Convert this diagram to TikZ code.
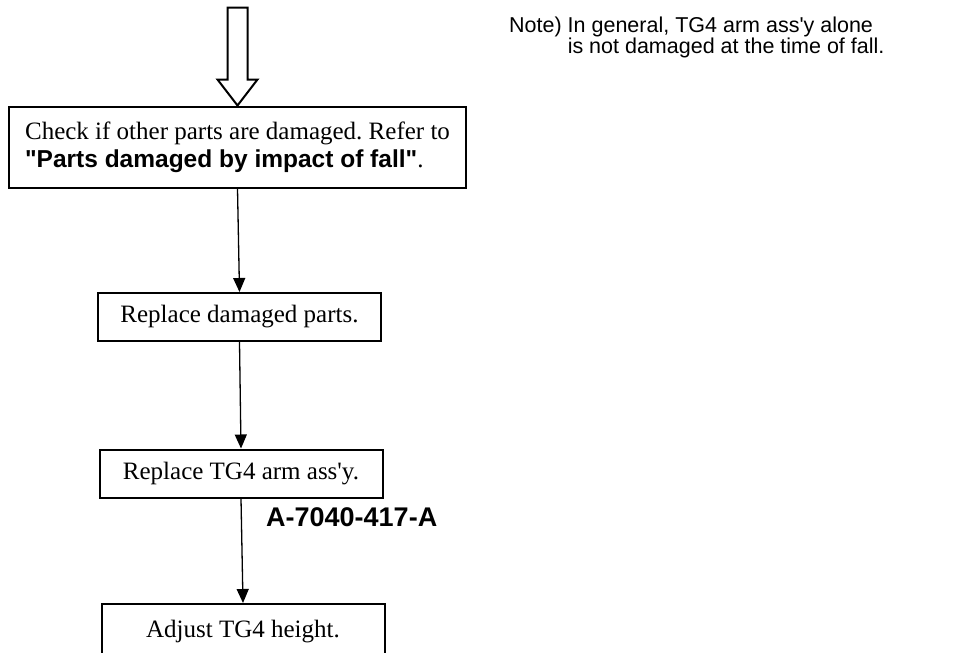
\documentclass[tikz,border=0pt]{standalone}
\usepackage{fontspec}
\setmainfont[Ligatures=TeXOff]{Liberation Serif}
\newfontfamily\helv[Ligatures=TeXOff]{Liberation Sans}
\usetikzlibrary{arrows.meta}
\frenchspacing

\begin{document}
\begin{tikzpicture}[
  x=1pt, y=-1pt, line join=miter,
  stepbox/.style={draw, line width=2pt, inner sep=0pt, align=center,
                  minimum width=283pt, minimum height=48pt,
                  font=\fontsize{25}{28}\selectfont},
  flow/.style   ={-{Triangle[length=14pt,width=12pt]}, line width=1.3pt},
  hollow/.style ={draw, line width=2pt, fill=white},
]

\useasboundingbox (0,0) rectangle (954,653);
\clip (0,0) rectangle (954,653);

% ----- the steps ---------------------------------------------------------
\node[stepbox, minimum width=457pt, minimum height=81pt, align=left]
      (check) at (237.5,147)
      {Check if other parts are damaged. Refer to\\
       {\helv\bfseries\fontsize{24.5}{28}\selectfont "Parts damaged by impact of fall"}.};
\node[stepbox] (parts)  at (239.5,317)   {Replace damaged parts.};
\node[stepbox] (arm)    at (241,473.5)   {Replace TG4 arm ass'y.};
\node[stepbox, minimum height=56pt] (height) at (243,632) {Adjust TG4 height.};

% ----- incoming hollow arrow ----------------------------------------------
\draw[hollow] (check.north) -- ++(-20,-26) -- ++(10,0) -- ++(0,-72)
      -- ++(20,0) -- ++(0,72) -- ++(10,0) -- cycle;

% ----- connectors --------------------------------------------------------
\draw[flow] (check.south) -- (parts.north);
\draw[flow] (parts.south) -- (arm.north);
\draw[flow] (arm.south)   -- (height.north);

% ----- labels ------------------------------------------------------------
\node[anchor=west, inner sep=0pt, font=\helv\bfseries\fontsize{27}{30}\selectfont]
      (code) at (266,517) {A-7040-417-A};

\node[anchor=north west, inner sep=0pt, align=left,
      font=\helv\fontsize{21.5}{18.5}\selectfont]
      (note) at (509,17)
      {Note) In general, TG4 arm ass'y alone\\
       \hphantom{Note)} is not damaged at the time of fall.};

\end{tikzpicture}
\end{document}
